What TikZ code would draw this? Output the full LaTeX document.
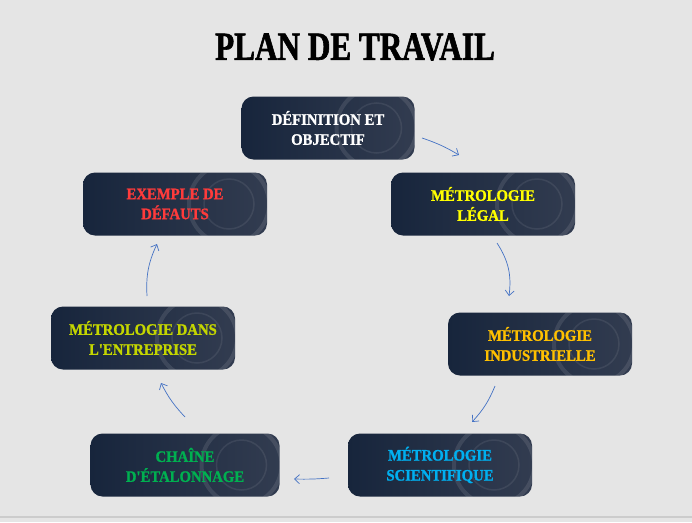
\documentclass[tikz,border=0pt]{standalone}
\usepackage{fontspec}
\setmainfont{Liberation Serif}
\newfontfamily\titlefont[FakeStretch=0.78,BoldFeatures={FakeBold=1.5}]{Liberation Serif}
\newfontfamily\boxfont[FakeStretch=0.92,BoldFeatures={FakeBold=1.2}]{Liberation Serif}
\usetikzlibrary{arrows.meta}
\definecolor{fond}{HTML}{E5E5E5}
\definecolor{navyA}{HTML}{17253C}
\definecolor{navyB}{HTML}{323C50}
\definecolor{bleufleche}{HTML}{4472C4}
\definecolor{jaune}{HTML}{FFFF00}
\definecolor{orange}{HTML}{FFC000}
\definecolor{ciel}{HTML}{00B0F0}
\definecolor{vert}{HTML}{00B050}
\definecolor{olive}{HTML}{C4D600}
\definecolor{rouge}{HTML}{FF3B3B}
\tikzset{
  etape/.style={rounded corners=12pt,minimum width=184pt,minimum height=63pt,align=center,
    font=\boxfont\bfseries\fontsize{16}{20}\selectfont,left color=navyA,right color=navyB,
    path picture={\draw[white,opacity=0.1,line width=4pt]([xshift=-38pt]path picture bounding box.east)circle(40pt);
      \draw[white,opacity=0.08,line width=1.5pt]([xshift=-38pt]path picture bounding box.east)circle(25pt);}},
  fleche/.style={-{Straight Barb[length=5pt,width=9pt]},bleufleche,line width=0.7pt}
}
\begin{document}
\begin{tikzpicture}[x=1pt,y=-1pt]
				\useasboundingbox (0,0) rectangle (692,522);
				\fill[fond] (0,0) rectangle (692,522);
				\draw[black!20,line width=1.5pt] (0,517)--(692,517);
				\node[font=\titlefont\bfseries\fontsize{40}{40}\selectfont] (titre) at (355,47) {PLAN DE TRAVAIL};
				% les etapes
				\node[etape,minimum width=173pt,text=white] (def) at (328,128) {DÉFINITION ET\\OBJECTIF};
				\node[etape,text=jaune] (legal) at (483,204) {MÉTROLOGIE\\LÉGAL};
				\node[etape,text=orange] (indus) at (540,344) {MÉTROLOGIE\\INDUSTRIELLE};
				\node[etape,text=ciel] (scien) at (440,465) {MÉTROLOGIE\\SCIENTIFIQUE};
				\node[etape,minimum width=189pt,text=vert] (chaine) at (185,465) {CHAÎNE\\D'ÉTALONNAGE};
				\node[etape,text=olive] (entr) at (143,338) {MÉTROLOGIE DANS\\L'ENTREPRISE};
				\node[etape,text=rouge] (expl) at (175,204) {EXEMPLE DE\\DÉFAUTS};
				% les fleches
				\coordinate (a1) at (422,138); \coordinate (b1) at (459,155);
				\coordinate (a2) at (497,243); \coordinate (b2) at (509,296);
				\coordinate (a3) at (495,386); \coordinate (b3) at (472,422);
				\coordinate (a4) at (329,478); \coordinate (b4) at (294,479);
				\coordinate (a5) at (185,417); \coordinate (b5) at (161,383);
				\coordinate (a6) at (147,296); \coordinate (b6) at (157,244);
				\foreach \i/\b in {1/6,2/20,3/10,4/3,5/8,6/14}{
					\draw[fleche] (a\i) to[bend left=\b] (b\i);
				};
			\end{tikzpicture}
\end{document}
